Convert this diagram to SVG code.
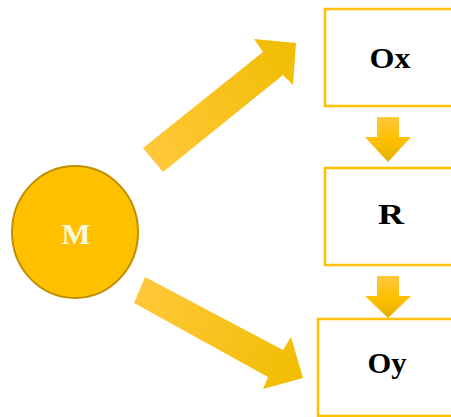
<svg xmlns="http://www.w3.org/2000/svg" width="451" height="417" viewBox="0 0 451 417">
<defs>
<linearGradient id="gUp" gradientUnits="userSpaceOnUse" x1="150" y1="160" x2="296" y2="43">
<stop offset="0" stop-color="#FFC83A"/><stop offset="1" stop-color="#F0BD00"/>
</linearGradient>
<linearGradient id="gDn" gradientUnits="userSpaceOnUse" x1="140" y1="290" x2="303" y2="378">
<stop offset="0" stop-color="#FFC83A"/><stop offset="1" stop-color="#F0BD00"/>
</linearGradient>
<linearGradient id="gV" x1="0" y1="0" x2="0" y2="1">
<stop offset="0" stop-color="#FFC840"/><stop offset="0.5" stop-color="#FFC000"/><stop offset="1" stop-color="#E3AE00"/>
</linearGradient>
<style>
.box{fill:#FFFFFF;stroke:#FFC000;stroke-width:2.5}
.lbl{font-family:"Liberation Serif","Times New Roman",serif;font-weight:bold;font-size:29px;text-anchor:middle;fill:#000}
</style>
</defs>
<g id="connectors">
<polygon points="143,148 263,52 254,39 296,43 293,85 283,75 163,172" fill="url(#gUp)"/>
<polygon points="145,277 283,350 291,337 303,378 263,389 268,377 134,303" fill="url(#gDn)"/>
<polygon points="377,117 399,117 399,137 411,137 388,162 365,137 377,137" fill="url(#gV)"/>
<polygon points="377,276 399,276 399,296 411,296 388,318 365,296 377,296" fill="url(#gV)"/>
</g>
<g id="M">
<ellipse cx="75" cy="232" rx="63" ry="66" fill="#FFC000" stroke="#BF9000" stroke-width="2"/>
<text x="76" y="244" class="lbl" style="fill:#FFF8E0" textLength="29" lengthAdjust="spacingAndGlyphs">M</text>
</g>
<g id="Ox">
<rect x="325" y="9" width="130" height="97" class="box"/>
<text x="390" y="68" class="lbl" textLength="41" lengthAdjust="spacingAndGlyphs">Ox</text>
</g>
<g id="R">
<rect x="325" y="168" width="130" height="97" class="box"/>
<text x="391" y="224" class="lbl" textLength="26" lengthAdjust="spacingAndGlyphs">R</text>
</g>
<g id="Oy">
<rect x="318" y="319" width="138" height="97" class="box"/>
<text x="387" y="373" class="lbl" textLength="39" lengthAdjust="spacingAndGlyphs">Oy</text>
</g>
</svg>
